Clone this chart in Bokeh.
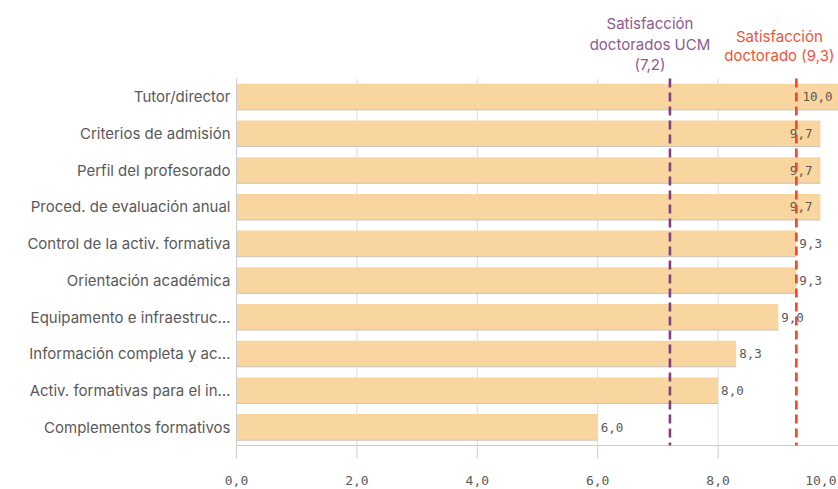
import math
from bokeh.plotting import figure
from bokeh.models import ColumnDataSource, Range1d
from bokeh.embed import file_html
from bokeh.resources import INLINE
from bokeh.core.properties import value

# ---- data ----
categories = [
    "Tutor/director",
    "Criterios de admisión",
    "Perfil del profesorado",
    "Proced. de evaluación anual",
    "Control de la activ. formativa",
    "Orientación académica",
    "Equipamento e infraestruc…",
    "Información completa y ac…",
    "Activ. formativas para el in…",
    "Complementos formativos",
]
scores = [10.0, 9.7, 9.7, 9.7, 9.3, 9.3, 9.0, 8.3, 8.0, 6.0]

ref_values = [7.2, 9.3]
ref_texts = ["Satisfacción\ndoctorados UCM\n(7,2)", "Satisfacción\ndoctorado (9,3)"]

x_ticks = [0, 2, 4, 6, 8, 10]
x_tick_labels = ["0,0", "2,0", "4,0", "6,0", "8,0", "10,0"]

# ---- styles ----
W, H = 838, 489
LEFT_PX = 236          # room for category labels
TOP_PX = 78            # room for reference-line captions
BOTTOM_PX = 44         # room for x tick labels
BAR = "#f9d5a0"
BAR_EDGE = "#c8c4bd"
GREY_TXT = "#595959"
AXIS = "#cccccc"
GRID = "#dddddd"
REF_LINE = ["#80407f", "#f2442a"]
REF_TXT = ["#8e5a8f", "#f0553a"]
REF_XOFF = [-20, -17]
REF_LINE_GAP = [20.5, 19.5]
REF_BOTTOM_OFF = [-14, -23]
SANS = "Inter"
MONO = "DejaVu Sans Mono"
BAR_H = 0.71

n = len(categories)
band = (H - TOP_PX - BOTTOM_PX) / n
xscale = (W - LEFT_PX) / (x_ticks[-1] - x_ticks[0])
ys = list(range(n))
top_edge = -0.5
bottom_edge = n - 0.5

p = figure(
    width=W, height=H,
    x_range=Range1d(x_ticks[0] - LEFT_PX / xscale, x_ticks[-1]),
    y_range=Range1d(bottom_edge + BOTTOM_PX / band, top_edge - TOP_PX / band),
    output_backend="svg", toolbar_location=None,
    min_border=0, min_border_left=0, min_border_right=0,
    min_border_top=0, min_border_bottom=0,
)
p.outline_line_color = None
p.xaxis.visible = False
p.yaxis.visible = False
p.xgrid.visible = False
p.ygrid.visible = False

# grid lines (vertical, only over the bar area)
p.segment(x0=x_ticks[1:], x1=x_ticks[1:], y0=top_edge, y1=bottom_edge,
          line_color=GRID, line_width=1)

# bars
fmt = [f"{v:.1f}".replace(".", ",") for v in scores]
inside = [v >= 9.5 for v in scores]
src = ColumnDataSource(dict(
    y=ys, v=scores, label=fmt, cat=categories,
    bottom=[y + BAR_H / 2 for y in ys],
    align=["right" if i else "left" for i in inside],
    xoff=[(-6 if v >= x_ticks[-1] else -8) if i else 3 for i, v in zip(inside, scores)],
))
p.hbar(y="y", right="v", left=0, height=BAR_H, source=src,
       fill_color=BAR, line_color=None)
p.segment(x0=0, x1="v", y0="bottom", y1="bottom", source=src,
          line_color=BAR_EDGE, line_width=1)

# value labels
p.text(x="v", y="y", text="label", source=src, text_align="align",
       x_offset="xoff", text_baseline="middle",
       text_font=value(MONO), text_font_size="12.5px", text_color=GREY_TXT)

# category labels
p.text(x=x_ticks[0], y="y", text="cat", source=src, text_align="right",
       x_offset=-6, text_baseline="middle",
       text_font=value(SANS), text_font_size="15px", text_color=GREY_TXT)

# axes lines and ticks
p.segment(x0=x_ticks[0], x1=x_ticks[0], y0=top_edge, y1=bottom_edge,
          line_color=AXIS, line_width=1)
p.segment(x0=x_ticks[0], x1=x_ticks[-1], y0=bottom_edge, y1=bottom_edge,
          line_color=AXIS, line_width=1)
p.ray(x=x_ticks, y=bottom_edge, length=13, length_units="screen",
      angle=-math.pi / 2, line_color=AXIS, line_width=1)

tick_src = ColumnDataSource(dict(
    x=x_ticks, t=x_tick_labels,
    align=["center"] * (len(x_ticks) - 1) + ["right"],
    xoff=[0] * (len(x_ticks) - 1) + [-2],
))
p.text(x="x", y=bottom_edge, text="t", source=tick_src, text_align="align",
       x_offset="xoff", y_offset=35, text_baseline="middle",
       text_font=value(MONO), text_font_size="13px", text_color=GREY_TXT)

# reference lines + captions
for val, txt, lc, tc, xo, gap, boff in zip(ref_values, ref_texts, REF_LINE,
                                          REF_TXT, REF_XOFF, REF_LINE_GAP,
                                          REF_BOTTOM_OFF):
    p.segment(x0=val, x1=val, y0=top_edge, y1=bottom_edge, line_color=lc,
              line_width=2.6, line_dash="9 5")
    lines = txt.split("\n")
    k = len(lines)
    p.text(x=[val] * k, y=[top_edge] * k, text=lines,
           x_offset=xo, y_offset=[boff - gap * (k - 1 - i) for i in range(k)],
           text_align="center", text_baseline="middle",
           text_font=value(SANS), text_font_size="15px", text_color=tc)

open("out.html", "w").write(file_html(p, INLINE))
